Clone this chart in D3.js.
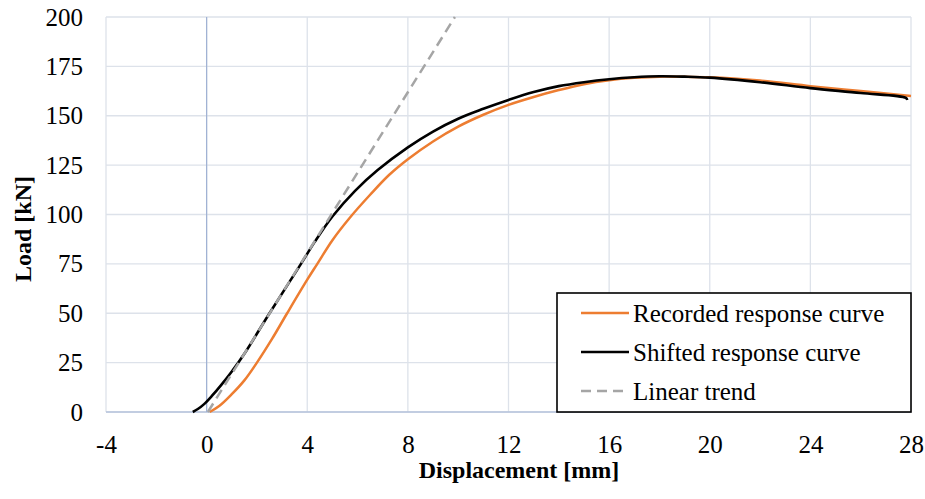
<!DOCTYPE html>
<html><head><meta charset="utf-8">
<script src="https://cdn.jsdelivr.net/npm/d3@7"></script>
<style>body{margin:0;background:#fff}svg{display:block}text{font-family:"Liberation Serif","Times New Roman",serif}</style>
</head><body><svg id="c" width="925" height="499"></svg>
<script>
const recordedDisp = [0.12,0.5,1.0,1.5,2.0,2.6,3.2,4.0,4.4,5.0,5.7,6.5,7.25,8.0,9.0,10.0,11.0,12.0,13.0,14.0,15.0,16.0,17.0,18.0,19.0,20.0,22.0,24.0,26.0,28.0];
const recordedLoad = [0,3,9,16,25,37,50,67,75,87,98.5,110,120,128,137,144.5,150.5,155.5,159.5,163,166,168,169.2,169.8,169.7,169.5,167.8,165,162.5,160];
const shiftedDisp = [-0.55,-0.35,-0.1,0.2,0.6,1.0,1.5,2.5,3.75,4.29,5.0,5.9,6.8,8.0,9.0,10.0,11.0,12.0,13.0,14.0,15.0,16.0,17.0,18.0,19.0,20.0,22.0,24.0,26.0,27.8,27.85];
const shiftedLoad = [0,1.5,4,8,14,20.5,29.5,50,75,86,99,112,122.5,134,142,148.5,153.5,158,162,165,167,168.5,169.5,170,169.8,169.3,167,164,161.5,159,158];
const trendDisp = [0.05,9.87];
const trendLoad = [0,200];
const xTicks = [-4,0,4,8,12,16,20,24,28];
const yTicks = [0,25,50,75,100,125,150,175,200];
const legendLabels = ["Recorded response curve","Shifted response curve","Linear trend"];

const svg = d3.select("#c");
const L=106,R=911,T=17,B=412;
const x = d3.scaleLinear().domain([-4,28]).range([L,R]);
const y = d3.scaleLinear().domain([0,200]).range([B,T]);

const g = svg.append("g");
g.selectAll(".vx").data(xTicks).join("line")
 .attr("x1",d=>x(d)).attr("x2",d=>x(d)).attr("y1",T).attr("y2",B)
 .attr("stroke","#dde2ea").attr("stroke-width",1.3);
g.selectAll(".hy").data(yTicks).join("line")
 .attr("x1",L).attr("x2",R).attr("y1",d=>y(d)).attr("y2",d=>y(d))
 .attr("stroke","#dde2ea").attr("stroke-width",1.3);
g.append("line").attr("x1",x(0)).attr("x2",x(0)).attr("y1",T).attr("y2",B).attr("stroke","#9fb1d3").attr("stroke-width",1.2);
g.append("line").attr("x1",L).attr("x2",R).attr("y1",y(0)).attr("y2",y(0)).attr("stroke","#9fb1d3").attr("stroke-width",1.2);

const fmt = d => String(d);
const xa = svg.append("g").attr("transform",`translate(0,${B})`)
 .call(d3.axisBottom(x).tickValues(xTicks).tickSize(0).tickPadding(23).tickFormat(fmt));
xa.select(".domain").remove();
xa.selectAll("text").attr("font-size",25).attr("fill","#000").attr("font-family","Liberation Serif");
const ya = svg.append("g").attr("transform",`translate(${L},0)`)
 .call(d3.axisLeft(y).tickValues(yTicks).tickSize(0).tickPadding(23).tickFormat(fmt));
ya.select(".domain").remove();
ya.selectAll("text").attr("font-size",25).attr("fill","#000").attr("font-family","Liberation Serif");

svg.append("text").attr("x",519).attr("y",478).attr("text-anchor","middle")
 .attr("font-size",24).attr("font-weight","bold").text("Displacement [mm]");
svg.append("text").attr("transform","translate(31,229) rotate(-90)").attr("text-anchor","middle")
 .attr("font-size",24).attr("font-weight","bold").text("Load [kN]");

const line2 = d3.line().x(d=>x(d[0])).y(d=>y(d[1])).curve(d3.curveCatmullRom);
svg.append("clipPath").attr("id","pc").append("rect").attr("x",L).attr("y",T-2).attr("width",R-L+4).attr("height",B-T+4);
const pg = svg.append("g").attr("clip-path","url(#pc)");
pg.append("path").datum(recordedDisp.map((d,i)=>[d,recordedLoad[i]]))
 .attr("d",line2).attr("fill","none").attr("stroke","#ED7D31").attr("stroke-width",2.5);
pg.append("path").datum(shiftedDisp.map((d,i)=>[d,shiftedLoad[i]]))
 .attr("d",line2).attr("fill","none").attr("stroke","#000").attr("stroke-width",2.6);
pg.append("path").datum(trendDisp.map((d,i)=>[d,trendLoad[i]]))
 .attr("d",d3.line().x(d=>x(d[0])).y(d=>y(d[1]))).attr("fill","none").attr("stroke","#A5A5A5").attr("stroke-width",2.5).attr("stroke-dasharray","10,6");

const lg = svg.append("g");
lg.append("rect").attr("x",557).attr("y",293).attr("width",354).attr("height",119).attr("fill","#fff").attr("stroke","#000").attr("stroke-width",1.6);
const colors=["#ED7D31","#000","#A5A5A5"], dashes=[null,null,"10,6"];
const rowsY=[313,352,391];
legendLabels.forEach((t,i)=>{
  lg.append("line").attr("x1",581).attr("x2",629).attr("y1",rowsY[i]).attr("y2",rowsY[i])
   .attr("stroke",colors[i]).attr("stroke-width",2.5).attr("stroke-dasharray",dashes[i]);
  lg.append("text").attr("x",633).attr("y",rowsY[i]).attr("dy","0.35em").attr("font-size",25).text(t);
});
</script></body></html>
